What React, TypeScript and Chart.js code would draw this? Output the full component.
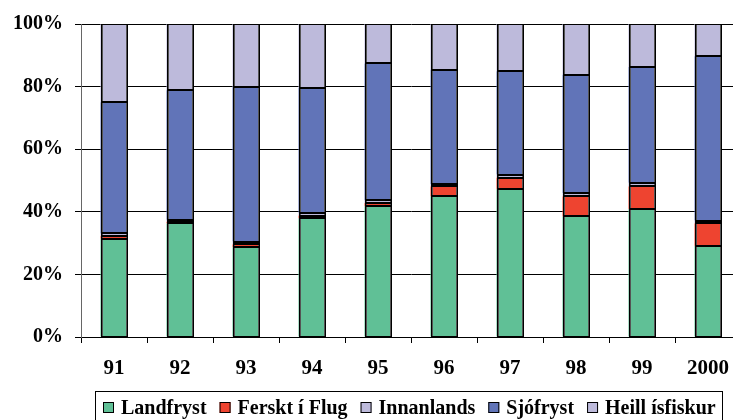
import React, { useEffect, useRef } from "react";
import { Chart, registerables } from "chart.js";

Chart.register(...registerables);

const categories = ["91", "92", "93", "94", "95", "96", "97", "98", "99", "2000"];
const landfryst = [31.4, 36.3, 28.7, 37.9, 41.8, 44.9, 47.3, 38.5, 40.9, 29.1];
const fersktIFlug = [0.9, 0.5, 0.9, 0.9, 1.0, 3.2, 3.6, 6.4, 7.2, 7.2];
const innanlands = [0.8, 0.7, 0.9, 0.9, 1.0, 0.8, 1.0, 1.1, 1.2, 0.9];
const sjofryst = [41.9, 41.3, 49.4, 39.9, 43.6, 36.5, 33.0, 37.8, 37.0, 52.5];
const heillIsfiskur = [25.0, 21.2, 20.1, 20.4, 12.6, 14.6, 15.1, 16.2, 13.7, 10.3];
const yTicks = [0, 20, 40, 60, 80, 100];

const FONT = "'Liberation Serif', 'Times New Roman', serif";

const barOutlinePlugin = {
  id: "barOutline",
  afterDatasetsDraw(chart: any) {
    const ctx = chart.ctx;
    ctx.save();
    chart.data.datasets.forEach((_d: any, di: number) => {
      const meta = chart.getDatasetMeta(di);
      meta.data.forEach((el: any) => {
        const x = el.x;
        const w = el.width;
        const l = Math.round(x - w / 2);
        const r = Math.round(x + w / 2);
        const t = Math.round(Math.min(el.y, el.base));
        const b = Math.round(Math.max(el.y, el.base));
        // inner soft edge
        ctx.fillStyle = "#555";
        ctx.fillRect(l + 1, t, 1, b - t);
        ctx.fillRect(r - 2, t, 1, b - t);
        // outer black edge
        ctx.fillStyle = "#000";
        ctx.fillRect(l, t, 1, b - t);
        ctx.fillRect(r - 1, t, 1, b - t);
        ctx.fillRect(l, t, r - l, 1);
        ctx.fillRect(l, b - 1, r - l, 1);
      });
    });
    ctx.restore();
  },
};

const legendPlugin = {
  id: "boxedLegend",
  afterDraw(chart: any) {
    const ctx = chart.ctx;
    ctx.save();
    ctx.font = `bold 20px ${FONT}`;
    const items = chart.data.datasets.map((d: any) => ({
      label: d.label,
      color: d.backgroundColor,
      w: ctx.measureText(d.label).width,
    }));
    const box = 11;
    const boxGap = 7;
    const itemGap = 13;
    let total = 0;
    items.forEach((it: any, i: number) => {
      total += box + boxGap + it.w + (i < items.length - 1 ? itemGap : 0);
    });
    const frameL = 95.5;
    const frameR = 722.5;
    const frameT = 391.5;
    const center = (frameL + frameR) / 2;
    let x = Math.round(center - total / 2);
    ctx.strokeStyle = "#000";
    ctx.lineWidth = 1;
    ctx.strokeRect(frameL, frameT, frameR - frameL, 40);
    const boxTop = 402;
    items.forEach((it: any) => {
      ctx.fillStyle = it.color;
      ctx.fillRect(x, boxTop, box, box);
      ctx.strokeStyle = "#000";
      ctx.strokeRect(x + 0.5, boxTop + 0.5, box - 1, box - 1);
      ctx.fillStyle = "#000";
      ctx.textBaseline = "alphabetic";
      ctx.textAlign = "left";
      ctx.fillText(it.label, x + box + boxGap, 413.5);
      x += box + boxGap + it.w + itemGap;
    });
    ctx.restore();
  },
};

export default function App() {
  const ref = useRef<HTMLCanvasElement | null>(null);
  useEffect(() => {
    if (!ref.current) return;
    const mk = (label: string, data: number[], color: string) => ({
      label,
      data,
      backgroundColor: color,
      borderWidth: 0,
      inflateAmount: 0,
      barThickness: 27,
      categoryPercentage: 1,
    });
    const chart = new Chart(ref.current, {
      type: "bar",
      data: {
        labels: categories,
        datasets: [
          mk("Landfryst", landfryst, "#60C096"),
          mk("Ferskt í Flug", fersktIFlug, "#EE4430"),
          mk("Innanlands", innanlands, "#BDBADB"),
          mk("Sjófryst", sjofryst, "#6174B8"),
          mk("Heill ísfiskur", heillIsfiskur, "#BDBADB"),
        ],
      },
      options: {
        responsive: false,
        animation: false,
        devicePixelRatio: 1,
        layout: { padding: { left: 0, top: 20, right: 4, bottom: 63 } },
        plugins: {
          legend: { display: false },
          tooltip: { enabled: false },
        },
        scales: {
          x: {
            stacked: true,
            offset: true,
            grid: {
              offset: true,
              drawOnChartArea: false,
              drawTicks: true,
              tickLength: 6,
              color: "#000",
            },
            border: { color: "#000", width: 1 },
            ticks: {
              color: "#000",
              padding: 13,
              maxRotation: 0,
              font: { family: FONT, size: 21, weight: "bold" },
            },
            afterFit: (s: any) => {
              s.height = 40;
            },
          },
          y: {
            stacked: true,
            min: 0,
            max: 100,
            afterBuildTicks: (s: any) => {
              s.ticks = yTicks.map((v) => ({ value: v }));
            },
            grid: { color: "#000", tickLength: 6, drawTicks: true },
            border: { color: "#666", width: 1 },
            ticks: {
              color: "#000",
              padding: 12,
              callback: (v: any) => `${v}%`,
              font: { family: FONT, size: 20, weight: "bold" },
            },
            afterFit: (s: any) => {
              s.width = 81;
            },
          },
        },
      },
      plugins: [barOutlinePlugin, legendPlugin],
    });
    return () => chart.destroy();
  }, []);
  return (
    <div
      style={{
        position: "fixed",
        left: 0,
        top: 0,
        width: 733,
        height: 420,
        overflow: "hidden",
        background: "#fff",
      }}
    >
      <canvas ref={ref} width={745} height={440} style={{ display: "block" }} />
    </div>
  );
}
